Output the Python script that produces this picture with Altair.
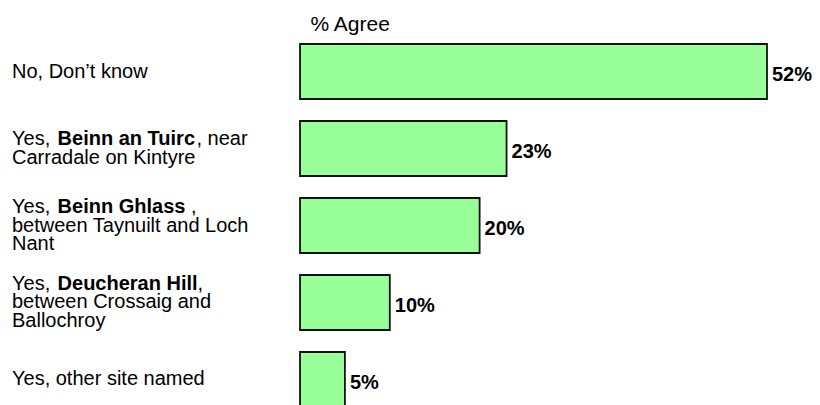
import altair as alt
import pandas as pd

# ---- data ----
categories = [
    "No, Don’t know",
    "Yes, Beinn an Tuirc, near Carradale on Kintyre",
    "Yes, Beinn Ghlass, between Taynuilt and Loch Nant",
    "Yes, Deucheran Hill, between Crossaig and Ballochroy",
    "Yes, other site named",
]
values = [52, 23, 20, 10, 5]

# label lines, each a list of (text, bold) segments
label_lines = [
    [[("No, Don’t know", False)]],
    [[("Yes, ", False), ("Beinn an Tuirc", True), (", near", False)],
     [("Carradale on Kintyre", False)]],
    [[("Yes, ", False), ("Beinn Ghlass", True), (" ,", False)],
     [("between Taynuilt and Loch", False)],
     [("Nant", False)]],
    [[("Yes, ", False), ("Deucheran Hill", True), (",", False)],
     [("between Crossaig and", False)],
     [("Ballochroy", False)]],
    [[("Yes, other site named", False)]],
]
title_text = "% Agree"

# ---- styling / layout ----
FONT = "Liberation Sans"
FS = 20
LINE_H = 18.5
LABEL_X = -288
PLOT_W = 467
PLOT_H = 372
RANGE_H = 385

# Arial / Liberation Sans advance widths (1/1000 em) used to place bold runs
REG = {" ": 278, ",": 278, "Y": 667, "e": 556, "s": 500, "n": 556, "a": 556, "r": 333}
BOLD = {" ": 278, "B": 722, "e": 556, "i": 278, "n": 611, "a": 556, "T": 611, "u": 611,
        "r": 389, "c": 556, "G": 778, "h": 611, "l": 278, "s": 556, "D": 722, "H": 722}


def text_width(s, bold, size):
    table = BOLD if bold else REG
    return sum(table.get(ch, 556) for ch in s) * size / 1000.0


rows = []
for cat, lines in zip(categories, label_lines):
    n = len(lines)
    for i, segs in enumerate(lines):
        off = 0.0
        k = 2 * i - (n - 1)  # line slot relative to the band centre, in half lines
        for txt, bold in segs:
            lead = len(txt) - len(txt.lstrip(" "))
            off += text_width(" " * lead, bold, FS)
            shown = txt.lstrip(" ")
            rows.append({"cat": cat, "txt": shown, "bold": bold, "k": k,
                         "px": LABEL_X + off})
            off += text_width(shown, bold, FS)

seg_df = pd.DataFrame(rows)
bar_df = pd.DataFrame({"cat": categories, "val": values})
title_df = pd.DataFrame({"t": [title_text]})

yscale = alt.Scale(domain=categories, range=[0, RANGE_H],
                   paddingInner=0.2857, paddingOuter=0.1429)
y_enc = alt.Y("cat:N", sort=categories, scale=yscale, axis=None)
xscale = alt.Scale(domain=[0, 52], nice=False, zero=True)

bars = alt.Chart(bar_df).mark_bar(
    color="#99FF99", stroke="#111111", strokeWidth=1.8
).encode(
    x=alt.X("val:Q", scale=xscale, axis=None),
    y=y_enc,
)

value_labels = alt.Chart(bar_df).transform_calculate(
    lbl="datum.val + '%'"
).mark_text(
    align="left", baseline="middle", dx=5, dy=3.5,
    font=FONT, fontSize=FS, fontWeight="bold", color="black"
).encode(
    x=alt.X("val:Q", scale=xscale, axis=None),
    y=y_enc,
    text="lbl:N",
)

label_layers = []
for k in sorted(seg_df["k"].unique()):
    for bold in (False, True):
        sub = seg_df[(seg_df["k"] == k) & (seg_df["bold"] == bold)]
        if sub.empty:
            continue
        label_layers.append(
            alt.Chart(sub).mark_text(
                align="left", baseline="middle", dy=float(k) * LINE_H / 2,
                font=FONT, fontSize=FS,
                fontWeight="bold" if bold else "normal", color="black"
            ).encode(
                x=alt.X("px:Q", scale=None),
                y=y_enc,
                text="txt:N",
            )
        )

title = alt.Chart(title_df).mark_text(
    align="left", baseline="alphabetic",
    font=FONT, fontSize=21, fontWeight="normal", color="black"
).encode(
    x=alt.value(10.5),
    y=alt.value(-2.3),
    text="t:N",
)

chart = alt.layer(bars, value_labels, *label_layers, title).properties(
    width=PLOT_W,
    height=PLOT_H,
    autosize=alt.AutoSizeParams(type="none"),
    padding={"left": 292, "top": 25, "right": 45, "bottom": 0},
    background="white",
).configure_view(stroke=None)

chart.save("out.html", embed_options={"renderer": "svg", "actions": False})
